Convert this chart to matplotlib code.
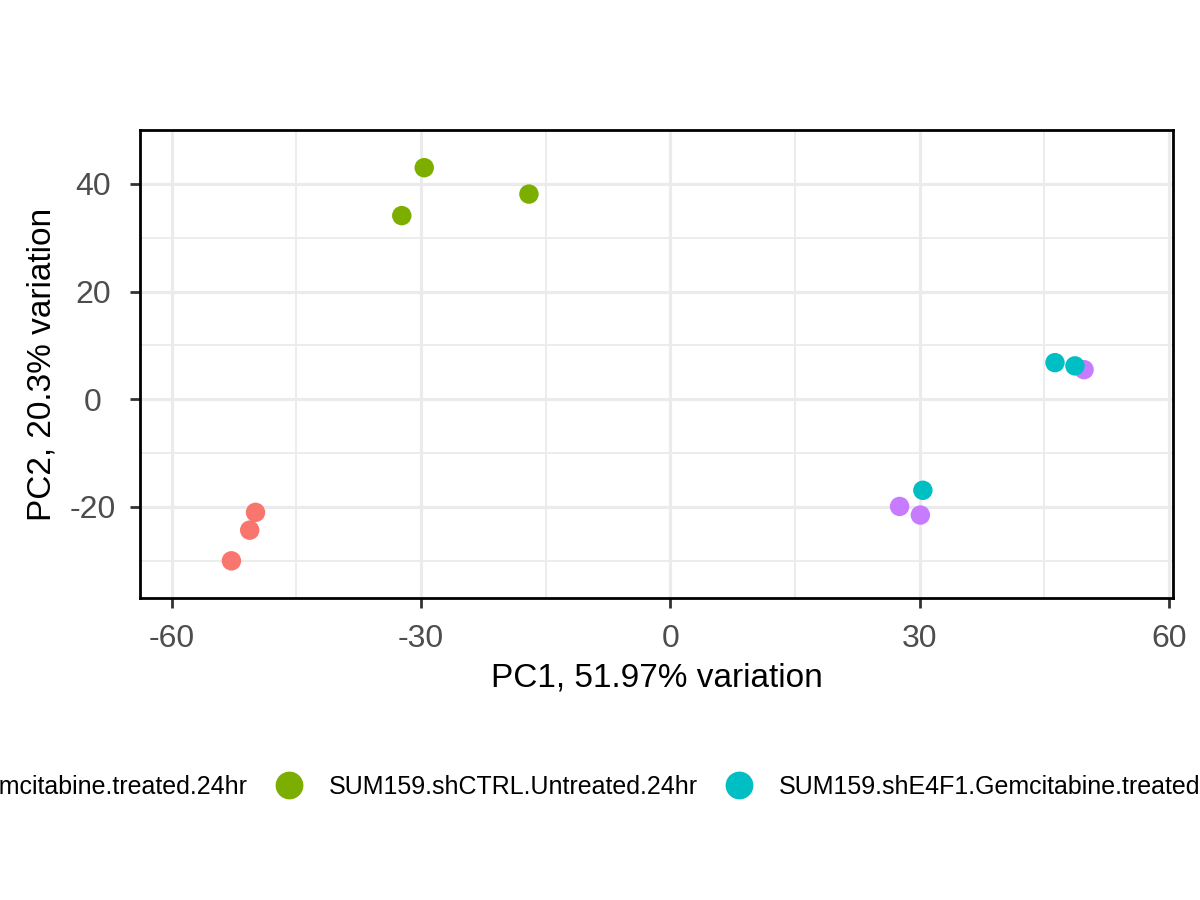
import matplotlib
matplotlib.use("Agg")
import matplotlib.pyplot as plt
from matplotlib.lines import Line2D

plt.rcParams['font.family'] = ['Liberation Sans', 'DejaVu Sans']
plt.rcParams['axes.unicode_minus'] = False

groups = ["SUM159.shCTRL.Gemcitabine.treated.24hr",
          "SUM159.shCTRL.Untreated.24hr",
          "SUM159.shE4F1.Gemcitabine.treated.24hr",
          "SUM159.shE4F1.Untreated.24hr"]
colors = ["#F8766D", "#7CAE00", "#00BFC4", "#C77CFF"]

pc1_ctrl_gem = [-49.9, -50.6, -52.8]
pc2_ctrl_gem = [-21.0, -24.3, -30.0]
pc1_ctrl_unt = [-29.6, -32.3, -17.0]
pc2_ctrl_unt = [43.0, 34.1, 38.1]
pc1_e4f1_gem = [46.3, 48.7, 30.4]
pc2_e4f1_gem = [6.8, 6.2, -16.9]
pc1_e4f1_unt = [49.8, 27.6, 30.1]
pc2_e4f1_unt = [5.5, -19.9, -21.5]

xs = [pc1_ctrl_gem, pc1_ctrl_unt, pc1_e4f1_gem, pc1_e4f1_unt]
ys = [pc2_ctrl_gem, pc2_ctrl_unt, pc2_e4f1_gem, pc2_e4f1_unt]

x_major = [-60, -30, 0, 30, 60]
x_minor = [-45, -15, 15, 45]
y_major = [-20, 0, 20, 40]
y_minor = [-30, -10, 10, 30, 50]

fig = plt.figure(figsize=(12, 9), dpi=100)
ax = fig.add_axes([140/1200, 1-598/900, (1173-140)/1200, (598-130)/900])

order = [0, 1, 3, 2]
for i in order:
    ax.scatter(xs[i], ys[i], s=196, color=colors[i], edgecolors='none', zorder=3)

ax.set_xlim(-63.8, 60.5)
ax.set_ylim(-36.9, 50.0)
ax.set_xticks(x_major)
ax.set_xticks(x_minor, minor=True)
ax.set_yticks(y_major)
ax.set_yticks(y_minor, minor=True)
ax.grid(which='major', color='#EBEBEB', linewidth=2.3, zorder=0)
ax.grid(which='minor', color='#EBEBEB', linewidth=1.3, zorder=0)
ax.set_axisbelow(True)
ax.tick_params(which='minor', length=0)
ax.tick_params(which='major', length=7, width=2, color='#333333',
               labelsize=23, labelcolor='#4D4D4D')
ax.tick_params(axis='x', pad=11.5)
ax.tick_params(axis='y', pad=27)
for lab in ax.get_yticklabels():
    lab.set_horizontalalignment('center')
for sp in ax.spines.values():
    sp.set_linewidth(2.0)
    sp.set_color('black')

ax.set_xlabel("PC1, 51.97% variation", fontsize=24, labelpad=6.2)
ax.set_ylabel("PC2, 20.3% variation", fontsize=24, labelpad=9)

handles = [Line2D([0], [0], marker='o', linestyle='none', markersize=20,
                  markerfacecolor=c, markeredgecolor='none') for c in colors]
fig.legend(handles, groups, loc='center', bbox_to_anchor=(0.588, 1-787/900),
           ncol=4, frameon=False, fontsize=18, handletextpad=1.0,
           columnspacing=1.04, handlelength=1.2)

fig.savefig("out.png", dpi=100)
